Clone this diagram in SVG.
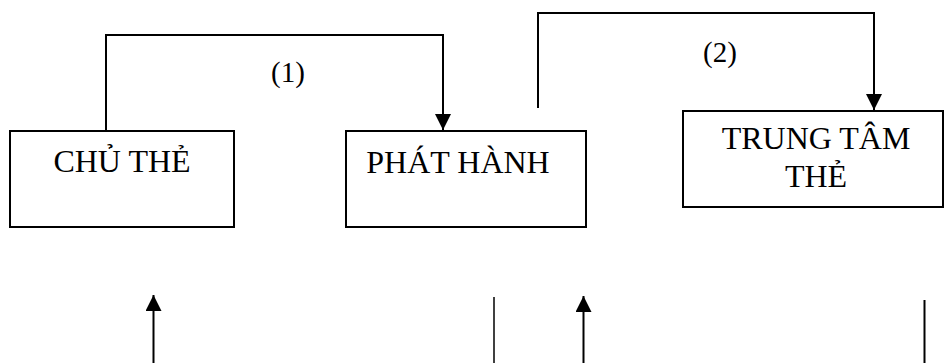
<svg xmlns="http://www.w3.org/2000/svg" width="944" height="363" viewBox="0 0 944 363">
<defs>
<style>
.box{fill:#fff;stroke:#000;stroke-width:2}
.t{font-family:"Liberation Serif","Times New Roman",serif;font-size:32px;fill:#000;text-anchor:middle}
.lbl{font-family:"Liberation Serif","Times New Roman",serif;font-size:29px;fill:#000;text-anchor:middle}
.c{fill:none;stroke:#000;stroke-width:2}
.c1{fill:none;stroke:#000;stroke-width:1.5}
</style>
<marker id="ah" markerUnits="userSpaceOnUse" markerWidth="16" markerHeight="16" viewBox="0 0 16 16" refX="16" refY="8" orient="auto">
<path d="M0,0 L16,8 L0,16 Z" fill="#000"/>
</marker>
</defs>
<g id="node-chu-the">
<rect class="box" x="10" y="131" width="224" height="96"/>
<text class="t" x="122" y="172">CHỦ THẺ</text>
</g>
<g id="node-phat-hanh">
<rect class="box" x="346" y="131" width="240" height="96"/>
<text class="t" x="458" y="173">PHÁT HÀNH</text>
</g>
<g id="node-trung-tam-the">
<rect class="box" x="683" y="111" width="260" height="96"/>
<text class="t" x="816" y="149">TRUNG TÂM</text>
<text class="t" x="816" y="187">THẺ</text>
</g>
<g id="connectors">
<path class="c" d="M106,131 V35 H443 V130" marker-end="url(#ah)"/>
<text class="lbl" x="288" y="82">(1)</text>
<path class="c" d="M538,108 V13 H874 V110" marker-end="url(#ah)"/>
<text class="lbl" x="720" y="62">(2)</text>
<path class="c" d="M153.5,363 V295" marker-end="url(#ah)"/>
<path class="c1" d="M494,297 V363"/>
<path class="c" d="M583.5,363 V296" marker-end="url(#ah)"/>
<path class="c" d="M924.5,300 V363"/>
</g>
</svg>
